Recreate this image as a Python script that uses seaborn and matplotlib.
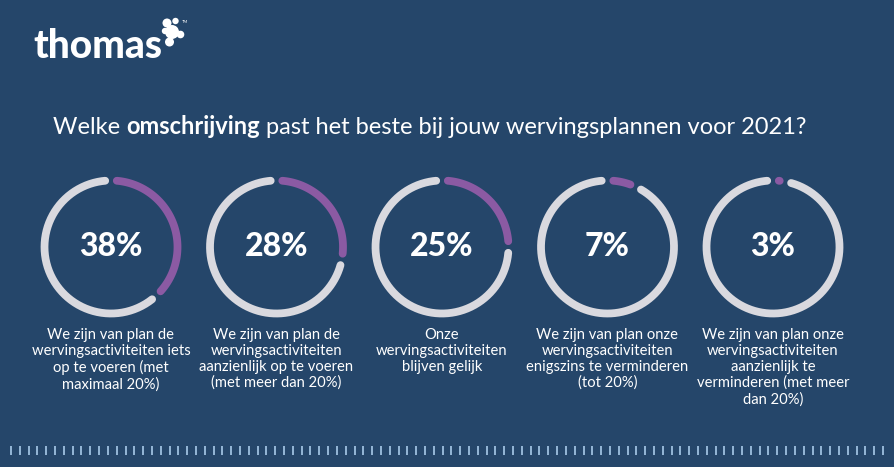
import numpy as np
import pandas as pd
import matplotlib
matplotlib.use("Agg")
import matplotlib.pyplot as plt
import seaborn as sns
from matplotlib.patches import Circle

# ---- data ----
percentages = [38, 28, 25, 7, 3]
pct_labels = ["38%", "28%", "25%", "7%", "3%"]
captions = [
    "We zijn van plan de\nwervingsactiviteiten iets\nop te voeren (met\nmaximaal 20%)",
    "We zijn van plan de\nwervingsactiviteiten\naanzienlijk op te voeren\n(met meer dan 20%)",
    "Onze\nwervingsactiviteiten\nblijven gelijk",
    "We zijn van plan onze\nwervingsactiviteiten\nenigszins te verminderen\n(tot 20%)",
    "We zijn van plan onze\nwervingsactiviteiten\naanzienlijk te\nverminderen (met meer\ndan 20%)",
]
title_parts = ["Welke ", "omschrijving", " past het beste bij jouw wervingsplannen voor 2021?"]

# ---- style ----
BG = "#25466a"
GRAY = "#d9d9df"
PURPLE = "#8b5aa3"
TICK = "#a8cbea"
W, H = 895, 467
sns.set_theme(style="white")
plt.rcParams["font.family"] = ["Lato", "DejaVu Sans"]

fig = plt.figure(figsize=(W / 100, H / 100), dpi=100, facecolor=BG)
ax = fig.add_axes([0, 0, 1, 1])
ax.set_xlim(0, W)
ax.set_ylim(H, 0)
ax.axis("off")
ax.set_facecolor(BG)

# logo
ax.text(33, 58, "thomas", color="white", fontsize=28, fontweight="black",
        ha="left", va="baseline")
# puzzle piece (approximate)
for (px, py, pr) in [(172, 32, 7.0), (167, 23, 4.5), (175.5, 21, 3.2), (180.5, 34.5, 3.8),
                     (169.5, 42, 4.5), (165, 31, 3.2)]:
    ax.add_patch(Circle((px, py), pr, color="white", lw=0))
ax.text(182, 22, "TM", color="white", fontsize=3, ha="left", va="center")

# title with bold part
t1 = ax.text(53, 127, title_parts[0], color="white", fontsize=17, va="center", ha="left")
t2 = ax.annotate(title_parts[1], xycoords=t1, xy=(1, 0), va="bottom", ha="left",
                 color="white", fontsize=17, fontweight="bold")
t3 = ax.annotate(title_parts[2], xycoords=t2, xy=(1, 0), va="bottom", ha="left",
                 color="white", fontsize=17)

# donuts
centers_x = [111, 276.5, 442, 607.5, 773]
cy = 247
R_mid = 66.5
rmax = 1.15
half = R_mid * rmax
shrink = np.deg2rad(5.0)
for i, v in enumerate(percentages):
    cx = centers_x[i]
    pax = fig.add_axes([(cx - half) / W, (H - cy - half) / H, 2 * half / W, 2 * half / H],
                       projection="polar")
    pax.set_theta_zero_location("N")
    pax.set_theta_direction(-1)
    pax.set_ylim(0, rmax)
    pax.axis("off")
    end = v / 100 * 2 * np.pi
    p_th = np.linspace(shrink, max(end - shrink, shrink + 0.01), 100)
    g_th = np.linspace(end + shrink, 2 * np.pi - shrink, 300)
    df = pd.DataFrame({
        "theta": np.concatenate([p_th, g_th]),
        "r": 1.0,
        "seg": ["value"] * len(p_th) + ["rest"] * len(g_th),
    })
    sns.lineplot(data=df, x="theta", y="r", hue="seg", palette={"value": PURPLE, "rest": GRAY},
                 sort=False, estimator=None, ax=pax, linewidth=5.6, legend=False,
                 solid_capstyle="round")
    for ln in pax.lines:
        ln.set_clip_on(False)
        ln.set_solid_capstyle("round")
    ax.text(cx, cy, pct_labels[i], color="white", fontsize=23, fontweight="black",
            ha="center", va="center")
    ax.text(cx, 328, captions[i], color="white", fontsize=10.6, ha="center", va="top",
            linespacing=1.17)

# bottom tick decoration
xs = np.linspace(11, 883, 100)
ax.vlines(xs, 446, 455, color=TICK, lw=1.2)

fig.savefig("out.png", dpi=100, facecolor=BG)
